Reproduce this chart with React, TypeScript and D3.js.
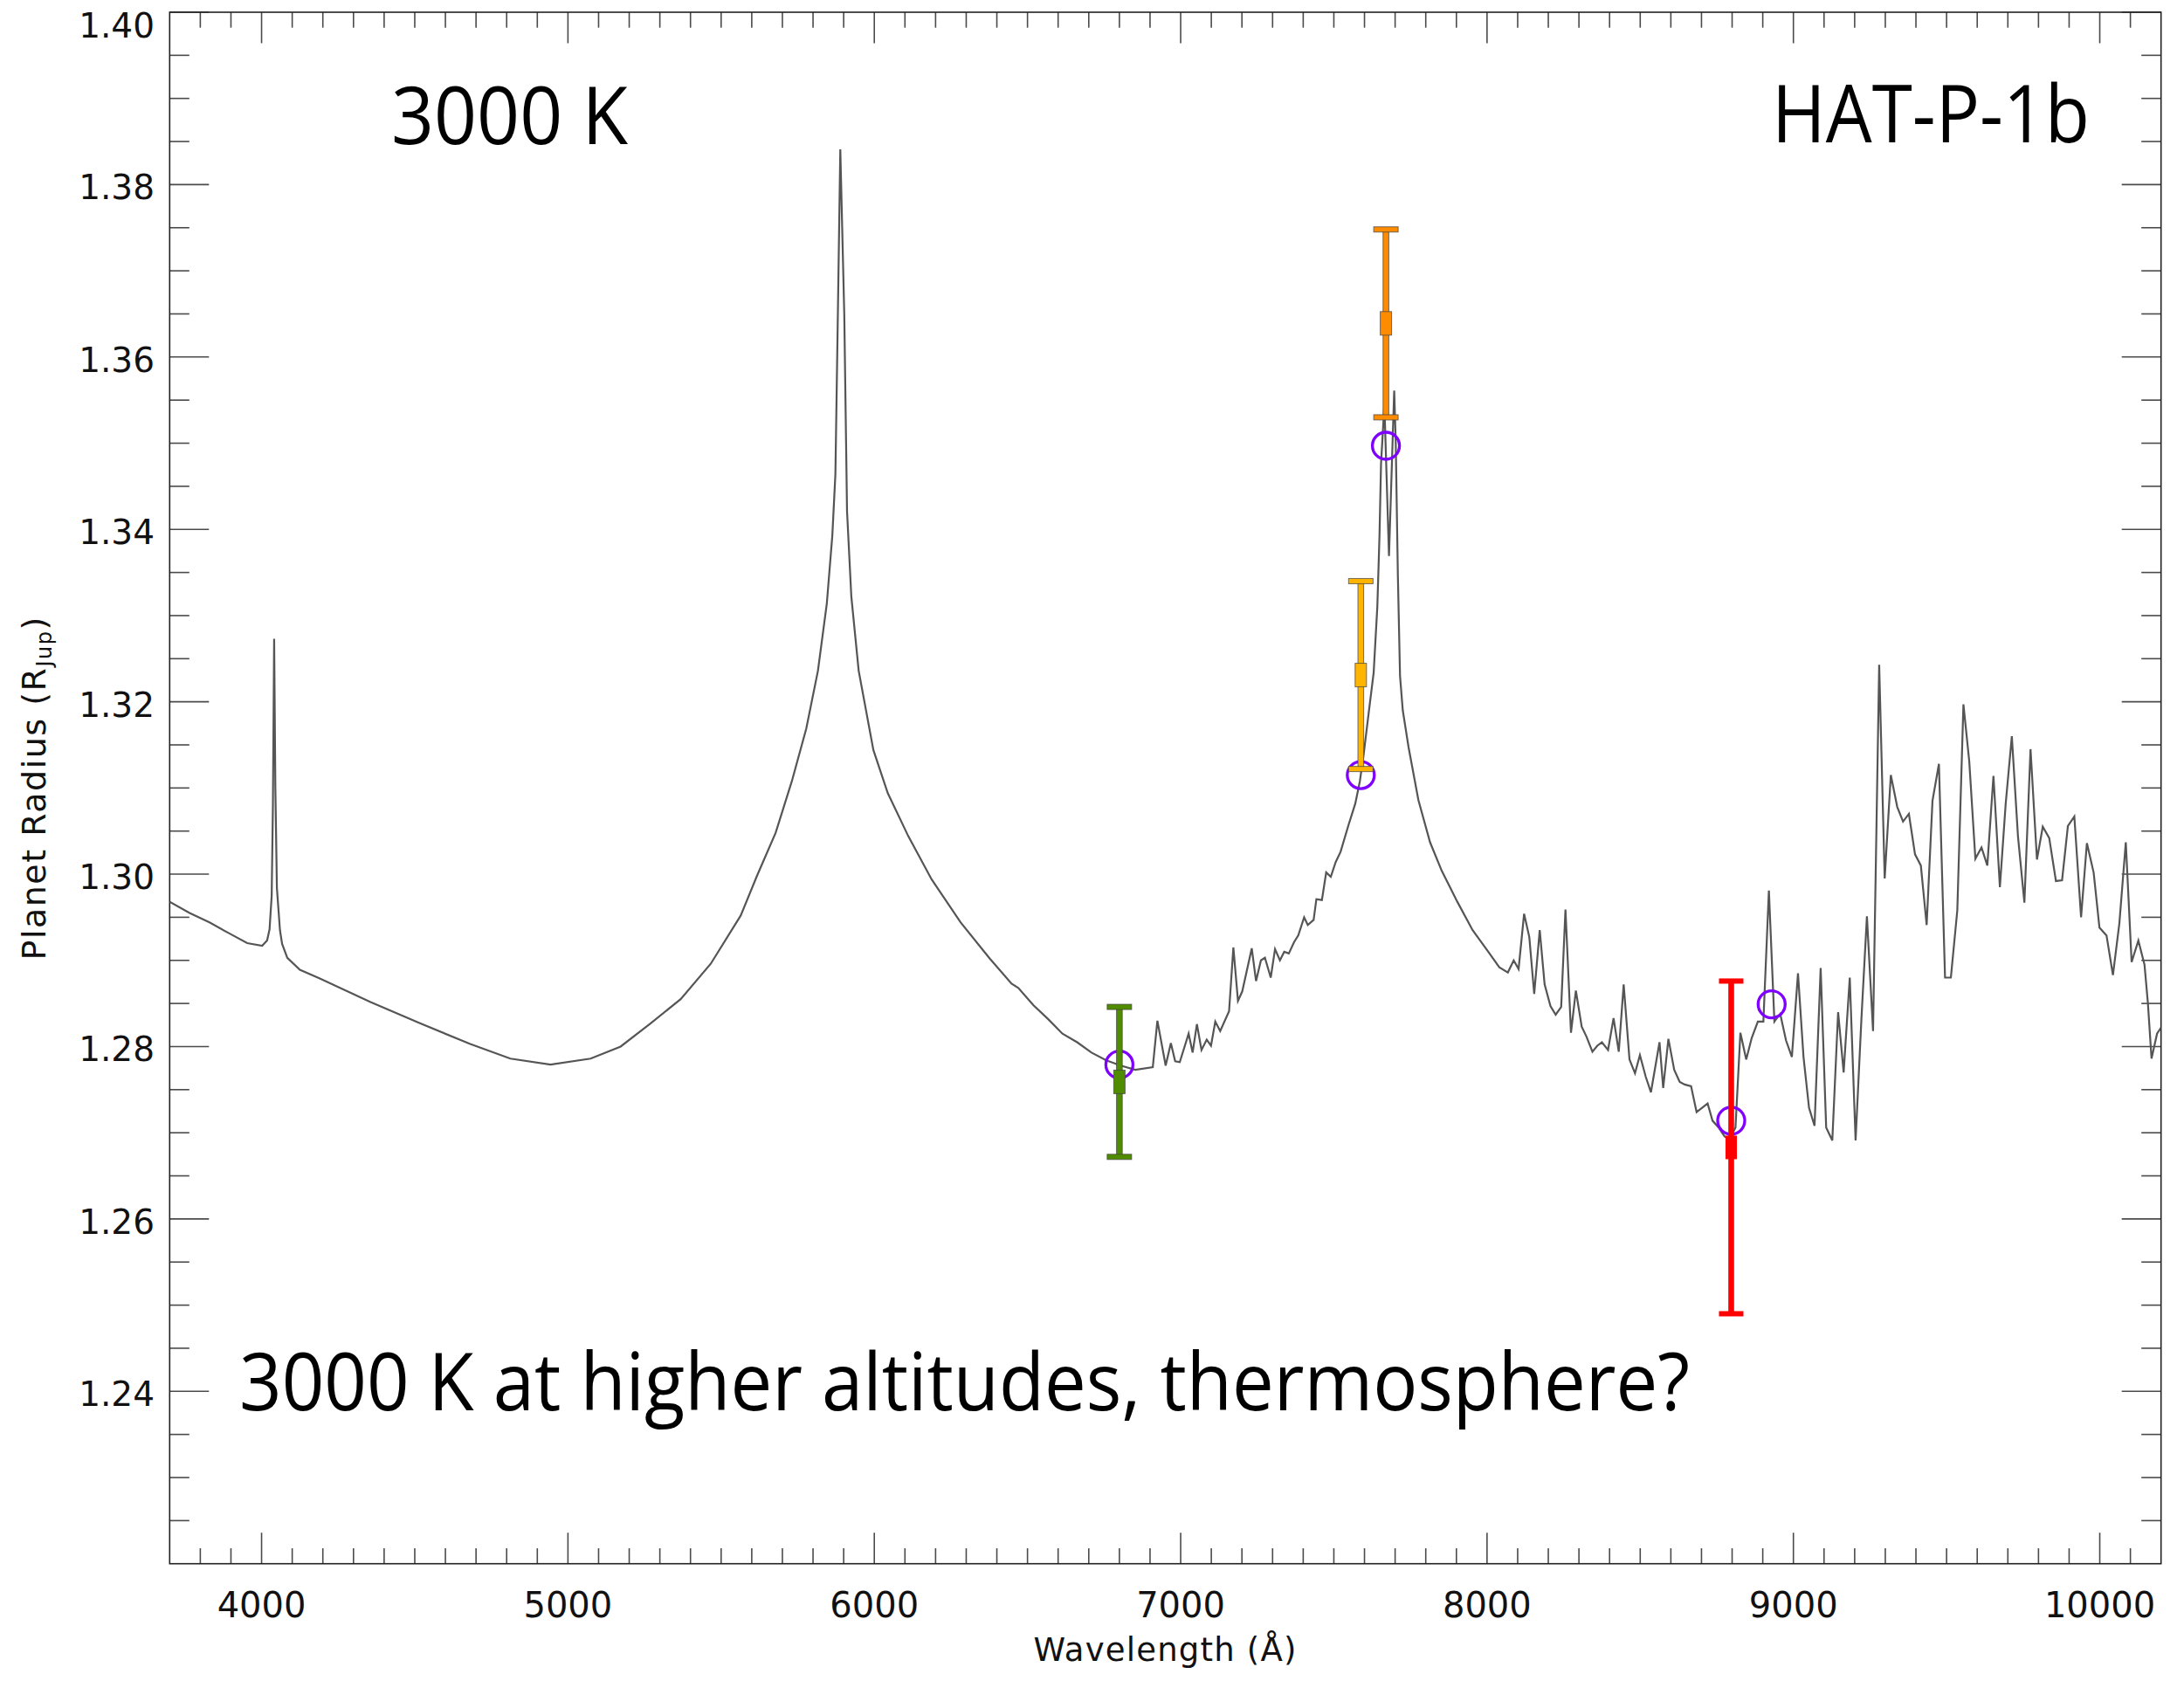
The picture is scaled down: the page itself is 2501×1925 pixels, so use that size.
import React from 'react';
import * as d3 from 'd3';

// ---------- data ----------
const spectrumWave = [
  3700, 3765, 3830, 3896, 3953, 4002, 4018, 4026, 4033, 4037, 4041, 4045, 4050, 4060, 4067, 4084,
  4125, 4190, 4354, 4517, 4681, 4812, 4943, 5074, 5172, 5270, 5368, 5466, 5564, 5617, 5678,
  5731, 5778, 5816, 5845, 5863, 5873, 5881, 5889, 5902, 5911, 5925, 5949, 5997, 6044, 6111, 6187,
  6282, 6377, 6448, 6470, 6519, 6567, 6614, 6662, 6709, 6757, 6804, 6852, 6909, 6924, 6951, 6968,
  6982, 6997, 7026, 7039, 7053, 7068, 7085, 7099, 7113, 7129, 7158, 7172, 7187, 7201, 7232, 7246,
  7262, 7275, 7294, 7308, 7324, 7338, 7353, 7370, 7384, 7403, 7415, 7434, 7443, 7461, 7475, 7490,
  7506, 7522, 7547, 7570, 7585, 7598, 7613, 7630, 7642, 7649, 7654, 7665, 7680, 7697, 7702, 7709,
  7716, 7725, 7744, 7776, 7814, 7852, 7903, 7953, 8004, 8040, 8068, 8087, 8103, 8121, 8138, 8154,
  8172, 8188, 8207, 8224, 8242, 8256, 8274, 8290, 8309, 8324, 8344, 8360, 8375, 8395, 8413, 8430,
  8446, 8465, 8483, 8499, 8518, 8535, 8563, 8575, 8592, 8611, 8629, 8645, 8666, 8684, 8702, 8720,
  8736, 8756, 8775, 8790, 8811, 8827, 8846, 8864, 8884, 8902, 8920, 8938, 8957, 8976, 8995, 9015,
  9033, 9051, 9069, 9089, 9107, 9127, 9146, 9164, 9184, 9203, 9222, 9240, 9260, 9280, 9298, 9318,
  9339, 9358, 9377, 9397, 9416, 9435, 9454, 9475, 9495, 9514, 9535, 9555, 9574, 9594, 9614, 9633,
  9653, 9674, 9693, 9713, 9733, 9754, 9774, 9795, 9814, 9835, 9857, 9877, 9896, 9917, 9939, 9958,
  9980, 9999, 10022, 10043, 10064, 10085, 10104, 10126, 10146, 10157, 10169, 10187, 10200,
];
const spectrumRadius = [
  1.2968, 1.2955, 1.2944, 1.2931, 1.2920, 1.2917, 1.2923, 1.2936, 1.2975, 1.3080, 1.3273, 1.3100, 1.2984, 1.2935, 1.2919, 1.2903,
  1.2889, 1.2879, 1.2852, 1.2827, 1.2803, 1.2786, 1.2779, 1.2786, 1.2800, 1.2827, 1.2855, 1.2896, 1.2952, 1.2998, 1.3048,
  1.3108, 1.3169, 1.3236, 1.3314, 1.3393, 1.3464, 1.3649, 1.3841, 1.3649, 1.3421, 1.3322, 1.3236, 1.3144, 1.3094, 1.3044, 1.2994,
  1.2944, 1.2902, 1.2873, 1.2868, 1.2848, 1.2832, 1.2815, 1.2805, 1.2793, 1.2784, 1.2778, 1.2773, 1.2776, 1.2830, 1.2778, 1.2804,
  1.2783, 1.2782, 1.2815, 1.2793, 1.2826, 1.2796, 1.2808, 1.2801, 1.2829, 1.2818, 1.2841, 1.2915, 1.2853, 1.2864, 1.2914, 1.2876,
  1.2900, 1.2903, 1.2880, 1.2913, 1.2900, 1.2910, 1.2908, 1.2921, 1.2929, 1.2950, 1.2941, 1.2947, 1.2971, 1.2970, 1.3002, 1.2997,
  1.3014, 1.3026, 1.3056, 1.3082, 1.3108, 1.3141, 1.3185, 1.3234, 1.3311, 1.3393, 1.3476, 1.3545, 1.3369, 1.3561, 1.3501, 1.3346,
  1.3230, 1.3190, 1.3147, 1.3086, 1.3037, 1.3004, 1.2968, 1.2935, 1.2910, 1.2892, 1.2886, 1.2900, 1.2890, 1.2954, 1.2927, 1.2861,
  1.2935, 1.2872, 1.2847, 1.2837, 1.2846, 1.2959, 1.2816, 1.2865, 1.2823, 1.2812, 1.2794, 1.2801, 1.2805, 1.2796, 1.2833, 1.2794,
  1.2872, 1.2785, 1.2769, 1.2790, 1.2765, 1.2747, 1.2805, 1.2752, 1.2809, 1.2773, 1.2759, 1.2756, 1.2754, 1.2724, 1.2729, 1.2734,
  1.2714, 1.2706, 1.2696, 1.2692, 1.2706, 1.2816, 1.2785, 1.2810, 1.2829, 1.2829, 1.2981, 1.2829, 1.2838, 1.2807, 1.2788, 1.2885,
  1.2788, 1.2729, 1.2708, 1.2891, 1.2706, 1.2691, 1.2840, 1.2770, 1.2880, 1.2691, 1.2832, 1.2951, 1.2818, 1.3243, 1.2995, 1.3115,
  1.3078, 1.3061, 1.3070, 1.3023, 1.3010, 1.2941, 1.3085, 1.3128, 1.2880, 1.2880, 1.2958, 1.3197, 1.3131, 1.3018, 1.3031, 1.3010,
  1.3114, 1.2985, 1.3082, 1.3160, 1.3044, 1.2967, 1.3145, 1.3017, 1.3055, 1.3042, 1.2992, 1.2993, 1.3056, 1.3067, 1.2950, 1.3036,
  1.3002, 1.2938, 1.2929, 1.2883, 1.2943, 1.3037, 1.2898, 1.2923, 1.2895, 1.2851, 1.2786, 1.2815, 1.2822,
];

const modelWave = [6800, 7588, 7670, 8797, 8929];
const modelRadius = [1.2779, 1.3115, 1.3497, 1.2714, 1.2849];

const barWave = [6800, 7588, 7670, 8797];
const barRadius = [1.2759, 1.3231, 1.3639, 1.2683];
const barError = [0.0087, 0.0109, 0.0109, 0.0193];
const barColor = ['#4f8c00', '#ffb400', '#ff8c00', '#ff0000'];

const xMajorTicks = [4000, 5000, 6000, 7000, 8000, 9000, 10000];
const yMajorTicks = [1.24, 1.26, 1.28, 1.30, 1.32, 1.34, 1.36, 1.38, 1.40];

export default function App() {
  const W = 2501, H = 1925;
  const L = 194.3, R = 2474.7, T = 14, B = 1790.7;
  const x = d3.scaleLinear().domain([3700, 10200]).range([L, R]);
  const y = d3.scaleLinear().domain([1.22, 1.40]).range([B, T]);

  const line = d3.line<number>()
    .x((_, i) => x(spectrumWave[i]))
    .y((d) => y(d));
  const path = line(spectrumRadius) || '';

  const xMinor = d3.range(38, 102).map((k) => k * 100).filter((v) => v % 1000 !== 0);
  const yMinorVals = d3.range(1, 36).map((k) => 1.22 + k * 0.005).filter((_, i) => (i + 1) % 4 !== 0);

  const tickStroke = '#4a4a4a';
  const labelFont = "'DejaVu Sans', sans-serif";
  const annoFont = "'Open Sans', 'Noto Sans', sans-serif";

  return (
    <svg width={W} height={H} style={{ position: 'absolute', left: 0, top: 0, background: '#fff' }}>
      <rect x={0} y={0} width={W} height={H} fill="#fff" />
      <defs>
        <clipPath id="plotClip">
          <rect x={L} y={T} width={R - L} height={B - T} />
        </clipPath>
      </defs>

      {/* ticks */}
      <g stroke={tickStroke} strokeWidth={1.6}>
        {xMinor.map((v) => (
          <g key={'xm' + v}>
            <line x1={x(v)} x2={x(v)} y1={B} y2={B - 17.7} />
            <line x1={x(v)} x2={x(v)} y1={T} y2={T + 17.7} />
          </g>
        ))}
        {xMajorTicks.map((v) => (
          <g key={'xM' + v}>
            <line x1={x(v)} x2={x(v)} y1={B} y2={B - 35.5} />
            <line x1={x(v)} x2={x(v)} y1={T} y2={T + 35.5} />
          </g>
        ))}
        {yMinorVals.map((v) => (
          <g key={'ym' + v}>
            <line x1={L} x2={L + 22.5} y1={y(v)} y2={y(v)} />
            <line x1={R} x2={R - 22.5} y1={y(v)} y2={y(v)} />
          </g>
        ))}
        {yMajorTicks.map((v) => (
          <g key={'yM' + v}>
            <line x1={L} x2={L + 45} y1={y(v)} y2={y(v)} />
            <line x1={R} x2={R - 45} y1={y(v)} y2={y(v)} />
          </g>
        ))}
      </g>

      {/* frame */}
      <rect x={L} y={T} width={R - L} height={B - T} fill="none" stroke="#222" strokeWidth={1.6} />

      {/* tick labels */}
      <g fontFamily={labelFont} fontSize={40} fill="#111">
        {xMajorTicks.map((v) => (
          <text key={'xl' + v} x={x(v)} y={B + 61} textAnchor="middle">{String(v)}</text>
        ))}
        {yMajorTicks.map((v) => (
          <text key={'yl' + v} x={177} y={Math.max(y(v) + 17, 43)} textAnchor="end" fontSize={39}>{v.toFixed(2)}</text>
        ))}
      </g>

      {/* axis titles */}
      <text x={(L + R) / 2} y={1902} textAnchor="middle" fontFamily={labelFont} fontSize={37} fill="#111" letterSpacing={1.2}>
        Wavelength  (Å)
      </text>
      <text transform={`translate(52, ${(T + B) / 2}) rotate(-90)`} textAnchor="middle" fontFamily={labelFont} fontSize={38} fill="#111" letterSpacing={1.5}>
        <tspan>Planet  Radius  (R</tspan>
        <tspan fontSize={24} dy={7}>Jup</tspan>
        <tspan dy={-7}>)</tspan>
      </text>

      {/* spectrum */}
      <g clipPath="url(#plotClip)">
        <path d={path} fill="none" stroke="#555" strokeWidth={2.2} strokeLinejoin="miter" />
      </g>

      {/* model band points */}
      <g fill="none" stroke="#7f00ff" strokeWidth={3.3}>
        {modelWave.map((w, i) => (
          <circle key={'mc' + i} cx={x(w)} cy={y(modelRadius[i])} r={15.5} />
        ))}
      </g>

      {/* measurements with error bars */}
      {barWave.map((w, i) => {
        const cx = x(w);
        const yTop = y(barRadius[i] + barError[i]);
        const yBot = y(barRadius[i] - barError[i]);
        const yc = y(barRadius[i]);
        const stroke = i === 3 ? 'none' : 'rgba(70,70,70,0.75)';
        return (
          <g key={'eb' + i} fill={barColor[i]} stroke={stroke} strokeWidth={1}>
            <rect x={cx - 3.3} y={yTop} width={6.6} height={yBot - yTop} />
            <rect x={cx - 14} y={yTop - 3} width={28} height={6} />
            <rect x={cx - 14} y={yBot - 3} width={28} height={6} />
            <rect x={cx - 6.5} y={yc - 13.5} width={13} height={27} />
          </g>
        );
      })}

      {/* annotations */}
      <g fontFamily={annoFont} fontSize={91} fill="#000">
        <text x={448} y={165} textLength={271} lengthAdjust="spacingAndGlyphs">3000 K</text>
        <text x={2029} y={163} textLength={364} lengthAdjust="spacingAndGlyphs">HAT-P-1b</text>
        <text x={274} y={1615} textLength={1661} lengthAdjust="spacingAndGlyphs">3000 K at higher altitudes, thermosphere?</text>
      </g>
    </svg>
  );
}
